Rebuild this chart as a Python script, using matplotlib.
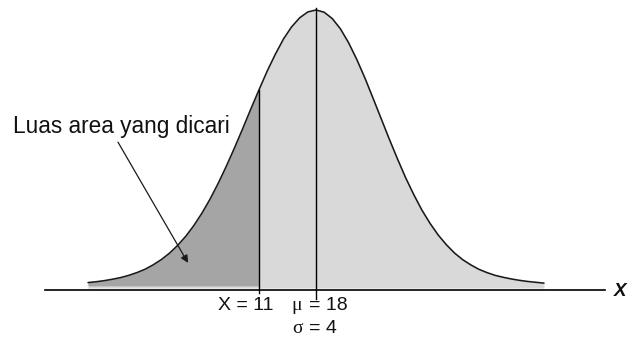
import numpy as np
import matplotlib
matplotlib.use("Agg")
import matplotlib.pyplot as plt

plt.rcParams["font.family"] = ["Liberation Sans", "DejaVu Sans"]

# Bell curve sketch: x positions (score units) and relative curve heights
curve_x = list(range(-10, 47))
curve_h = [0.016, 0.019, 0.023, 0.028, 0.034, 0.042, 0.052, 0.064, 0.080, 0.099,
           0.122, 0.150, 0.183, 0.222, 0.267, 0.318, 0.375, 0.437, 0.503, 0.572,
           0.643, 0.712, 0.779, 0.840, 0.895, 0.939, 0.972, 0.993, 1.000, 0.992,
           0.969, 0.932, 0.882, 0.822, 0.755, 0.682, 0.608, 0.534, 0.463, 0.395,
           0.334, 0.278, 0.230, 0.188, 0.153, 0.123, 0.099, 0.080, 0.064, 0.052,
           0.042, 0.035, 0.029, 0.024, 0.020, 0.017, 0.014]

mu = 18
sigma = 4
x_value = 11
area_label = "Luas area yang dicari"
axis_label = "X"

x = np.array(curve_x, dtype=float)
h = np.array(curve_h)

fig = plt.figure(figsize=(6.29, 3.38), dpi=100)
ax = fig.add_axes([0, 0, 1, 1])
ax.set_xlim(-20.81, 56.44)
ax.set_ylim(-0.1841, 1.0361)
ax.axis("off")

# shaded regions under the curve
ax.fill_between(x, -0.004, h, color="#d9d9d9", lw=0, zorder=1)
left = x <= x_value
ax.fill_between(x[left], 0.004, h[left], color="#a5a5a5", lw=0, zorder=2)

# curve outline
ax.plot(x, h, color="#1a1a1a", lw=1.15, zorder=4, solid_capstyle="round")

# horizontal axis
ax.plot([-15.3, 53.5], [-0.011, -0.011], color="black", lw=1.2, zorder=3)

# vertical markers at X and at the mean
h_at_x = h[curve_x.index(x_value)]
ax.plot([x_value, x_value], [-0.022, h_at_x], color="black", lw=1.0, zorder=5)
ax.plot([mu, mu], [-0.045, 1.007], color="black", lw=1.0, zorder=5)

# labels
serif = ["Liberation Serif", "DejaVu Serif"]
txt = dict(fontsize=14, color="#111111", va="center")
ax.text(9.34, -0.066, f"X = {x_value}", ha="center", **txt)
ax.text(15.0, -0.066, "μ", ha="left", family=serif, **txt)
ax.text(17.1, -0.066, f"= {mu}", ha="left", **txt)
ax.text(15.1, -0.150, "σ", ha="left", family=serif, **txt)
ax.text(17.1, -0.150, f"= {sigma}", ha="left", **txt)
ax.text(55.35, -0.016, axis_label, ha="center", va="center",
        fontsize=13.5, style="italic", weight="bold", color="#111111")

ax.text(-19.2, 0.578, area_label, ha="left", va="center",
        fontsize=16.3, color="#111111")
ax.annotate("", xy=(2.28, 0.087), xytext=(-6.32, 0.523),
            arrowprops=dict(arrowstyle="-|>", color="#1a1a1a", lw=0.9,
                            mutation_scale=11, shrinkA=0, shrinkB=0),
            zorder=6)

fig.savefig("out.png", dpi=100)
